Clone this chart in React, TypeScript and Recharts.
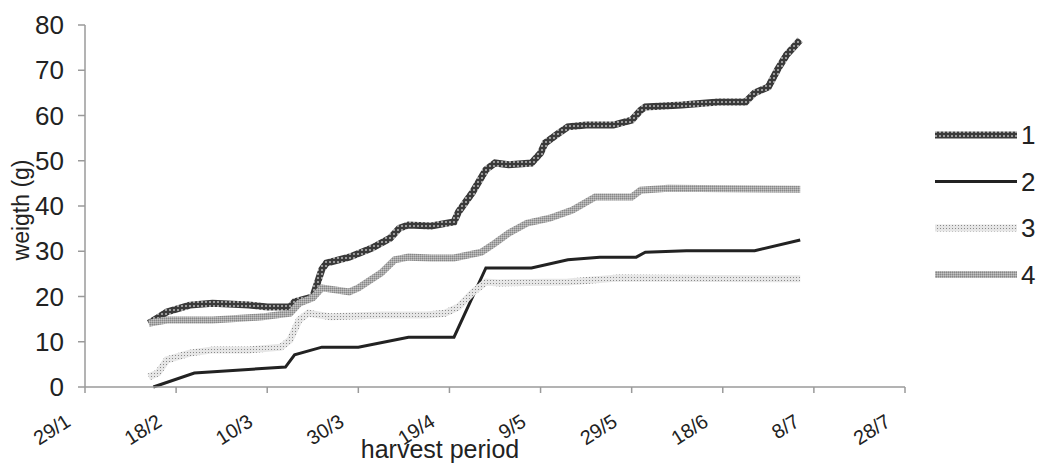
import React from "react";
import { Line, LineChart, XAxis, YAxis, Label } from "recharts";

// harvest dates as day-of-year, weights in grams
const s1Days = [43, 45, 47, 52, 57, 65, 69, 74, 75, 79, 81, 82, 87, 92, 96, 98, 100, 105, 110, 111, 114, 117, 119, 122, 127, 129, 130, 133, 135, 139, 145, 149, 151, 152, 160, 168, 174, 176, 179, 181, 183, 186];
const s1Weights = [14.1, 15.3, 16.6, 18.1, 18.5, 18.1, 17.7, 17.7, 18.8, 19.9, 26.0, 27.4, 28.7, 30.7, 32.9, 35.1, 35.8, 35.6, 36.5, 38.7, 42.9, 48.0, 49.5, 49.1, 49.5, 51.7, 53.9, 56.1, 57.5, 57.9, 57.9, 59.0, 61.2, 61.9, 62.3, 63.0, 63.0, 65.0, 66.3, 70.1, 73.4, 76.7];

const s2Days = [44, 53, 73, 75, 81, 89, 100, 110, 117, 127, 135, 142, 150, 152, 161, 176, 186];
const s2Weights = [0, 3.1, 4.4, 7.1, 8.8, 8.8, 11.0, 11.0, 26.3, 26.3, 28.1, 28.7, 28.7, 29.8, 30.1, 30.1, 32.5];

const s3Days = [43, 45, 47, 52, 57, 65, 72, 74, 76, 78, 83, 94, 104, 108, 111, 114, 117, 120, 135, 146, 186];
const s3Weights = [2.2, 3.1, 6.0, 7.5, 8.2, 8.2, 8.8, 10.4, 14.8, 16.3, 15.5, 15.9, 15.9, 16.3, 17.7, 20.8, 23.2, 23.0, 23.2, 24.1, 23.9];

const s4Days = [43, 47, 57, 68, 74, 76, 79, 81, 87, 89, 94, 97, 100, 105, 110, 116, 119, 122, 126, 131, 136, 141, 149, 151, 157, 186];
const s4Weights = [14.1, 14.8, 14.8, 15.5, 16.3, 18.5, 19.7, 21.9, 21.0, 21.9, 25.2, 28.1, 28.7, 28.5, 28.5, 29.8, 31.8, 34.0, 36.2, 37.3, 39.1, 42.0, 42.0, 43.5, 43.9, 43.7];

const xTicks = [29, 49, 69, 89, 109, 129, 149, 169, 189, 209];
const xTickLabels = ["29/1", "18/2", "10/3", "30/3", "19/4", "9/5", "29/5", "18/6", "8/7", "28/7"];
const yTicks = [0, 10, 20, 30, 40, 50, 60, 70, 80];
const seriesNames = ["1", "2", "3", "4"];

const toRows = (days: number[], weights: number[]) =>
  days.map((d, i) => ({ day: d, weight: weights[i] }));

const series = [
  { name: seriesNames[0], data: toRows(s1Days, s1Weights), stroke: "url(#pat1)", width: 7 },
  { name: seriesNames[1], data: toRows(s2Days, s2Weights), stroke: "#222", width: 3 },
  { name: seriesNames[2], data: toRows(s3Days, s3Weights), stroke: "url(#pat3)", width: 7 },
  { name: seriesNames[3], data: toRows(s4Days, s4Weights), stroke: "url(#pat4)", width: 7 },
];

const FONT = "'Liberation Sans', Arial, sans-serif";

const Patterns = ({ p }: { p: string }) => (
  <defs>
    <pattern id={p + "1"} width="4" height="4" patternUnits="userSpaceOnUse">
      <rect width="4" height="4" fill="#3a3a3a" />
      <rect x="1" y="1" width="2" height="2" fill="#9a9a9a" />
    </pattern>
    <pattern id={p + "3"} width="3" height="3" patternUnits="userSpaceOnUse">
      <rect width="3" height="3" fill="#e6e6e6" />
      <rect x="1" y="1" width="1" height="1" fill="#8a8a8a" />
    </pattern>
    <pattern id={p + "4"} width="2" height="2" patternUnits="userSpaceOnUse">
      <rect width="2" height="2" fill="#a8a8a8" />
      <rect width="1" height="1" fill="#888" />
      <rect x="1" y="1" width="1" height="1" fill="#c4c4c4" />
    </pattern>
  </defs>
);

const XTick = (props: any) => {
  const { x, y, payload } = props;
  const i = xTicks.indexOf(payload.value);
  const ax = x - 13;
  const ay = y + 30;
  return (
    <text
      x={ax}
      y={ay}
      textAnchor="end"
      fill="#222"
      fontSize={20}
      fontFamily={FONT}
      transform={`rotate(-32, ${ax}, ${ay})`}
    >
      {xTickLabels[i]}
    </text>
  );
};

const Legend = () => (
  <svg width={110} height={180} style={{ position: "absolute", left: 930, top: 110 }}>
    <Patterns p="lpat" />
    {series.map((s, i) => {
      const cy = 25 + i * 46.5;
      const stroke = s.stroke.startsWith("url") ? s.stroke.replace("#pat", "#lpat") : s.stroke;
      return (
        <g key={s.name}>
          <line x1={5} x2={87} y1={cy} y2={cy} stroke={stroke} strokeWidth={s.width} />
          <text x={91} y={cy} dy="0.36em" fontSize={26} fill="#222" fontFamily={FONT}>
            {s.name}
          </text>
        </g>
      );
    })}
  </svg>
);

export default function App() {
  return (
    <div style={{ position: "absolute", left: 0, top: 0, width: 1039, height: 463, background: "#fff" }}>
      <LineChart width={1039} height={463} margin={{ top: 25, right: 134, bottom: 0, left: 0 }}>
        <Patterns p="pat" />
        <XAxis
          dataKey="day"
          type="number"
          domain={[29, 209]}
          ticks={xTicks}
          tick={<XTick />}
          tickSize={6}
          height={76}
          stroke="#9a9a9a"
          strokeWidth={1.5}
          allowDuplicatedCategory={false}
        >
          <Label
            content={() => (
              <text x={440} y={458} textAnchor="middle" fontSize={25} fill="#222" fontFamily={FONT}>
                harvest period
              </text>
            )}
          />
        </XAxis>
        <YAxis
          type="number"
          domain={[0, 80]}
          ticks={yTicks}
          width={85}
          tickSize={7}
          tickMargin={14}
          stroke="#9a9a9a"
          strokeWidth={1.5}
          tick={{ fill: "#222", fontSize: 26, fontFamily: FONT }}
        >
          <Label
            content={() => (
              <text
                x={21}
                y={210}
                textAnchor="middle"
                dominantBaseline="central"
                fontSize={23}
                fill="#222"
                fontFamily={FONT}
                transform="rotate(-90, 21, 210)"
              >
                weigth (g)
              </text>
            )}
          />
        </YAxis>
        {series.map((s) => (
          <Line
            key={s.name}
            data={s.data}
            dataKey="weight"
            name={s.name}
            type="linear"
            stroke={s.stroke}
            strokeWidth={s.width}
            dot={false}
            activeDot={false}
            isAnimationActive={false}
          />
        ))}
      </LineChart>
      <Legend />
    </div>
  );
}
